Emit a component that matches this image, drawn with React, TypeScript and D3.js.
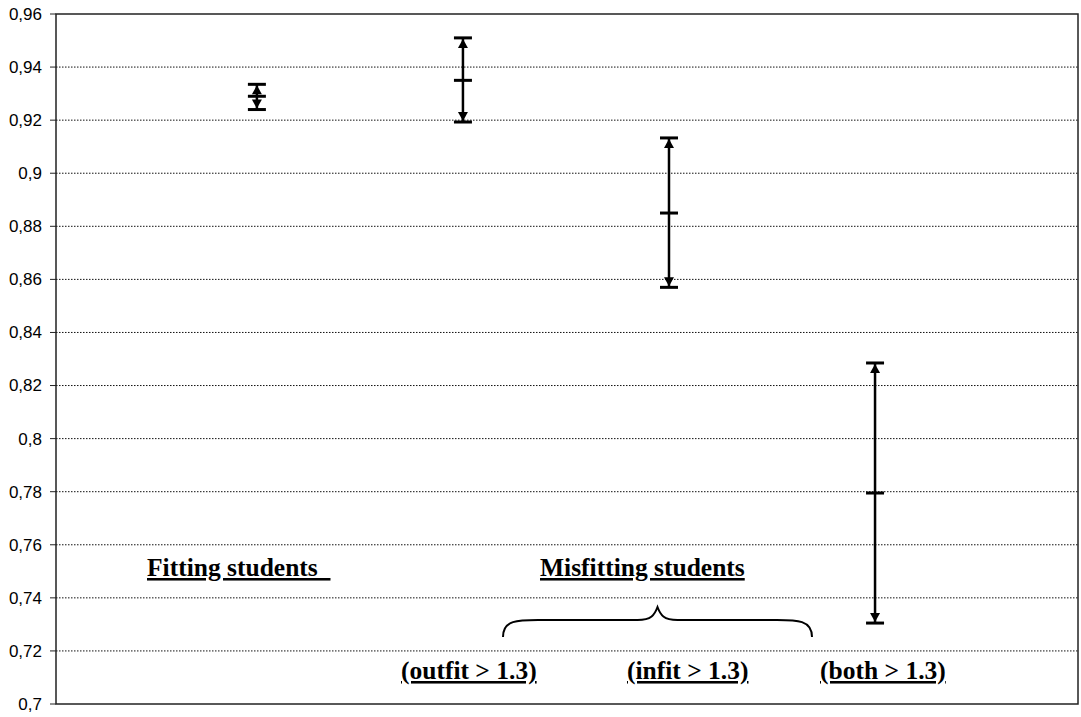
import React from "react";
import * as d3 from "d3";

const categories = ["Fitting", "Outfit > 1.3", "Infit > 1.3", "Both > 1.3"];
const centers = [0.929, 0.935, 0.885, 0.7795];
const uppers = [0.9335, 0.951, 0.9133, 0.8285];
const lowers = [0.924, 0.9193, 0.857, 0.7305];
const yTicks = [0.7, 0.72, 0.74, 0.76, 0.78, 0.8, 0.82, 0.84, 0.86, 0.88, 0.9, 0.92, 0.94, 0.96];

const W = 1081, H = 717;
const L = 56, R = 1078, T = 14, B = 704;

export default function App() {
  const y = d3.scaleLinear().domain([0.7, 0.96]).range([B, T]);
  const x = d3.scaleLinear().domain([0.025, 4.985]).range([L, R]);
  const fmt = (v: number) => d3.format("")(+v.toFixed(2)).replace(".", ",");
  const serif = "'Liberation Serif', 'Times New Roman', serif";
  const sans = "'Liberation Sans', Arial, sans-serif";

  const bx = (i: number) => x(i + 1);
  const braceL = 503, braceR = 812, braceM = (braceL + braceR) / 2;
  const braceTop = 607, braceMid = 620, braceBot = 637;
  const brace = `M${braceL},${braceBot} C${braceL},${braceMid} ${braceL + 15},${braceMid} ${braceL + 35},${braceMid} L${braceM - 20},${braceMid} C${braceM - 6},${braceMid} ${braceM - 3},${braceMid - 5} ${braceM},${braceTop} C${braceM + 3},${braceMid - 5} ${braceM + 6},${braceMid} ${braceM + 20},${braceMid} L${braceR - 35},${braceMid} C${braceR - 15},${braceMid} ${braceR},${braceMid} ${braceR},${braceBot}`;

  const labels = [
    { text: "Fitting students  ", x: 147, y: 576 },
    { text: "Misfitting students", x: 540, y: 576 },
    { text: "(outfit > 1.3)", x: 401, y: 679 },
    { text: "(infit > 1.3)", x: 627, y: 679 },
    { text: "(both > 1.3)", x: 820, y: 679 },
  ];

  return (
    <svg width={W} height={H} style={{ position: "absolute", left: 0, top: 0, background: "#fff" }}>
      {yTicks.slice(1, -1).map((t) => (
        <line key={"g" + t} x1={L} x2={R} y1={y(t)} y2={y(t)} stroke="#111" strokeWidth={1} strokeDasharray="1.5 1.5" />
      ))}
      <rect x={L} y={T} width={R - L} height={B - T} fill="none" stroke="#222" strokeWidth={1.5} />
      {yTicks.map((t) => (
        <g key={"t" + t}>
          <line x1={L - 6} x2={L} y1={y(t)} y2={y(t)} stroke="#222" strokeWidth={1} />
          <text x={42} y={y(t)} dy="0.35em" textAnchor="end" fontFamily={sans} fontSize={17} fill="#000">
            {fmt(t)}
          </text>
        </g>
      ))}
      {categories.map((c, i) => {
        const cx = bx(i);
        const yu = y(uppers[i]);
        const yl = y(lowers[i]);
        const yc = y(centers[i]);
        const aw = 5, ah = 10;
        return (
          <g key={c}>
            <line x1={cx} x2={cx} y1={yu} y2={yl} stroke="#000" strokeWidth={2.5} />
            <line x1={cx - 9} x2={cx + 9} y1={yu} y2={yu} stroke="#000" strokeWidth={3} />
            <line x1={cx - 9} x2={cx + 9} y1={yl} y2={yl} stroke="#000" strokeWidth={3} />
            <line x1={cx - 9} x2={cx + 9} y1={yc} y2={yc} stroke="#000" strokeWidth={3} />
            <path d={`M${cx},${yu + 1} L${cx - aw},${yu + ah} L${cx + aw},${yu + ah} Z`} fill="#000" />
            <path d={`M${cx},${yl - 1} L${cx - aw},${yl - ah} L${cx + aw},${yl - ah} Z`} fill="#000" />
          </g>
        );
      })}
      <g fontFamily={serif} fontWeight="bold" fontSize={25.5} fill="#000">
        {labels.map((l) => (
          <text key={l.text} x={l.x} y={l.y} textDecoration="underline" style={{ whiteSpace: "pre" }}>
            {l.text}
          </text>
        ))}
      </g>
      <path d={brace} fill="none" stroke="#000" strokeWidth={2} />
    </svg>
  );
}
